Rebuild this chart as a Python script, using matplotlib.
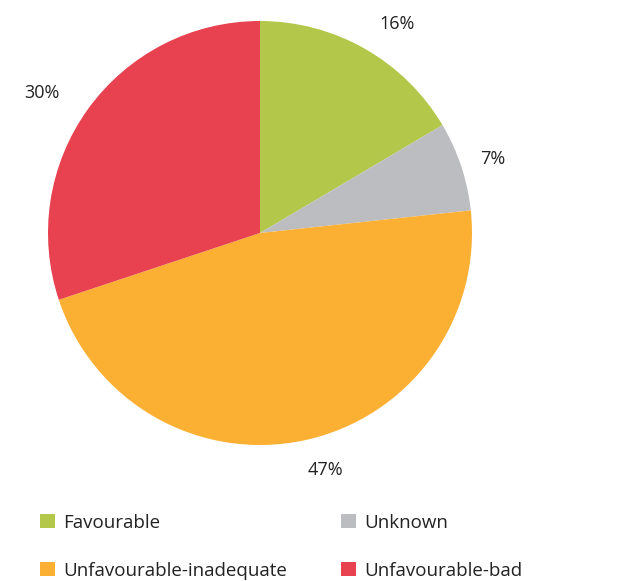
import matplotlib.pyplot as plt
import matplotlib.transforms as mtransforms
from matplotlib.patches import Patch

# data
categories = ["Favourable", "Unknown", "Unfavourable-inadequate", "Unfavourable-bad"]
values = [16.5, 6.8, 46.6, 30.1]
pct_labels = ["16%", "7%", "47%", "30%"]
colors = ["#b3c84a", "#bcbdc0", "#fbb034", "#e8414f"]

plt.rcParams['font.family'] = ['Open Sans', 'DejaVu Sans']

fig = plt.figure(figsize=(6.29, 5.81), dpi=100)
ax = fig.add_axes([48/629, 1 - 445/581, 424/629, 424/581])

wedges, texts = ax.pie(values, colors=colors, labels=pct_labels, startangle=90,
                       counterclock=False, labeldistance=1.17,
                       textprops={'fontsize': 13, 'color': '#222222'},
                       wedgeprops={'linewidth': 0})

# small nudges (points) so labels sit where the original has them
nudges = [(10, -5), (-2, -3), (9, 4), (-12, -4)]
for t, (dx, dy) in zip(texts, nudges):
    t.set_horizontalalignment('center')
    t.set_verticalalignment('center')
    t.set_clip_on(False)
    t.set_transform(mtransforms.offset_copy(ax.transData, fig=fig, x=dx, y=dy, units='points'))
ax.set_xlim(-1, 1)
ax.set_ylim(-1, 1)
ax.set_aspect('equal')

# legend, filled column-wise
order = [0, 2, 1, 3]
handles = [Patch(facecolor=colors[i], edgecolor='none') for i in order]
names = [categories[i] for i in order]
fig.legend(handles, names, ncol=2, loc='upper left',
           bbox_to_anchor=(32/629, 1 - 506/581), frameon=False,
           fontsize=13.5, handlelength=0.8, handleheight=0.8,
           handletextpad=0.45, labelspacing=1.6, columnspacing=2.9,
           labelcolor='#222222', borderaxespad=0)

fig.savefig("out.png", dpi=100)
